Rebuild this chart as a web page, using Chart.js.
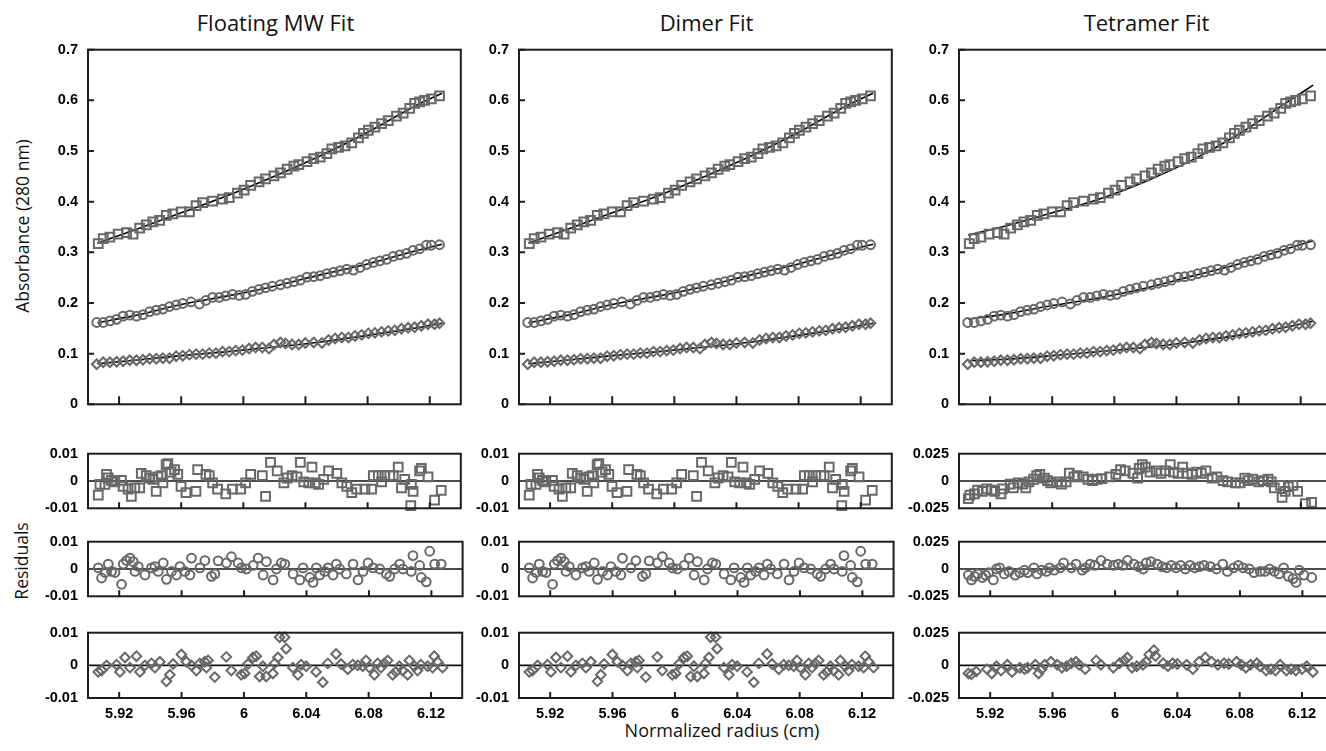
<!DOCTYPE html>
<html>
<head>
<meta charset="utf-8">
<script src="https://cdn.jsdelivr.net/npm/chart.js@4.4.1/dist/chart.umd.min.js"></script>
<style>
  html, body { margin: 0; padding: 0; background: #fff; width: 1326px; height: 751px; overflow: hidden; position: relative; }
  .txt { position: absolute; font-family: 'Open Sans', 'Noto Sans', sans-serif; color: #111; white-space: nowrap; text-align: center; }
  .colTitle { font-size: 22px; line-height: 22px; top: 11px; width: 375px; }
  .yTitle { font-size: 17.5px; line-height: 20px; width: 300px; transform: rotate(-90deg); }
</style>
</head>
<body>
<div class="txt colTitle" style="left:88px">Floating MW Fit</div>
<div class="txt colTitle" style="left:519px">Dimer Fit</div>
<div class="txt colTitle" style="left:959px">Tetramer Fit</div>
<div class="txt yTitle" style="left:-128px;top:216px">Absorbance (280 nm)</div>
<div class="txt yTitle" style="left:-129px;top:551px">Residuals</div>
<div class="txt" style="left:522px;top:720px;width:400px;font-size:18px;line-height:20px">Normalized radius (cm)</div>
<script>
// x ticks shared by every panel
const tickX = [5.92, 5.96, 6.0, 6.04, 6.08, 6.12];

// absorbance data (same scans in all three columns)
const absSqX = [5.9066,5.9098,5.9141,5.9194,5.9248,5.9290,5.9333,5.9376,5.9418,5.9461,5.9504,5.9546,5.9600,5.9653,5.9696,5.9738,5.9802,5.9866,5.9909,5.9962,6.0005,6.0047,6.0101,6.0143,6.0197,6.0239,6.0282,6.0325,6.0357,6.0410,6.0453,6.0495,6.0538,6.0570,6.0613,6.0655,6.0698,6.0741,6.0773,6.0805,6.0847,6.0890,6.0933,6.0986,6.1029,6.1071,6.1103,6.1135,6.1167,6.1210,6.1263];
const absSqY = [0.317,0.327,0.330,0.336,0.339,0.336,0.348,0.354,0.360,0.363,0.373,0.376,0.380,0.380,0.392,0.398,0.401,0.405,0.408,0.417,0.423,0.432,0.439,0.445,0.451,0.457,0.464,0.470,0.473,0.479,0.485,0.488,0.495,0.504,0.507,0.510,0.516,0.526,0.535,0.541,0.547,0.554,0.560,0.569,0.575,0.584,0.594,0.597,0.600,0.603,0.609];
const absCiX = [5.9056,5.9098,5.9141,5.9184,5.9226,5.9269,5.9312,5.9354,5.9397,5.9440,5.9482,5.9525,5.9568,5.9610,5.9663,5.9717,5.9759,5.9802,5.9845,5.9887,5.9930,5.9973,6.0015,6.0058,6.0101,6.0143,6.0186,6.0239,6.0282,6.0325,6.0367,6.0410,6.0453,6.0495,6.0538,6.0581,6.0623,6.0666,6.0709,6.0751,6.0794,6.0837,6.0879,6.0922,6.0965,6.1007,6.1050,6.1093,6.1135,6.1178,6.1210,6.1263];
const absCiY = [0.1615,0.1615,0.1646,0.1677,0.174,0.176,0.174,0.177,0.183,0.186,0.188,0.193,0.196,0.199,0.202,0.198,0.205,0.211,0.211,0.214,0.217,0.215,0.217,0.223,0.227,0.230,0.233,0.236,0.239,0.242,0.245,0.251,0.252,0.254,0.258,0.261,0.264,0.267,0.265,0.270,0.276,0.280,0.283,0.286,0.292,0.295,0.298,0.304,0.307,0.314,0.314,0.315];
const absDiX = [5.9056,5.9098,5.9141,5.9184,5.9226,5.9269,5.9312,5.9354,5.9397,5.9440,5.9482,5.9525,5.9568,5.9610,5.9653,5.9696,5.9738,5.9781,5.9824,5.9866,5.9909,5.9951,5.9994,6.0037,6.0079,6.0122,6.0165,6.0197,6.0239,6.0271,6.0314,6.0357,6.0399,6.0453,6.0506,6.0549,6.0591,6.0634,6.0677,6.0719,6.0762,6.0805,6.0847,6.0890,6.0933,6.0975,6.1018,6.1061,6.1103,6.1146,6.1189,6.1231,6.1263];
const absDiY = [0.079,0.083,0.083,0.084,0.085,0.087,0.087,0.088,0.090,0.090,0.091,0.091,0.095,0.096,0.098,0.099,0.099,0.101,0.101,0.104,0.104,0.106,0.107,0.110,0.112,0.112,0.110,0.118,0.122,0.120,0.118,0.118,0.121,0.122,0.121,0.127,0.130,0.132,0.132,0.135,0.137,0.140,0.141,0.143,0.145,0.146,0.149,0.151,0.152,0.155,0.158,0.158,0.160];

// fitted curves
const fitX = [5.906, 5.93, 5.96, 5.99, 6.02, 6.05, 6.08, 6.11, 6.128];
const fitFloatSq = [0.318,0.344,0.378,0.412,0.450,0.491,0.537,0.588,0.614];
const fitFloatCi = [0.161,0.175,0.197,0.214,0.233,0.256,0.277,0.302,0.316];
const fitFloatDi = [0.080,0.087,0.096,0.104,0.113,0.123,0.136,0.150,0.160];
const fitDimerSq = fitFloatSq, fitDimerCi = fitFloatCi, fitDimerDi = fitFloatDi; // indistinguishable from floating fit
const fitTetSq = [0.334,0.352,0.378,0.405,0.440,0.482,0.533,0.594,0.630];
const fitTetCi = [0.168,0.178,0.195,0.210,0.229,0.253,0.277,0.306,0.323];
const fitTetDi = [0.086,0.089,0.096,0.104,0.112,0.123,0.136,0.152,0.164];

// residuals, floating MW fit (dimer fit looks the same)
const resFloatSqX = [5.9066,5.9077,5.9109,5.9119,5.9130,5.9151,5.9173,5.9215,5.9226,5.9258,5.9279,5.9301,5.9333,5.9343,5.9375,5.9397,5.9418,5.9439,5.9450,5.9471,5.9482,5.9503,5.9514,5.9535,5.9557,5.9578,5.9599,5.9631,5.9695,5.9706,5.9759,5.9781,5.9802,5.9834,5.9887,5.9930,5.9983,6.0015,6.0047,6.0122,6.0143,6.0175,6.0218,6.0261,6.0282,6.0314,6.0346,6.0367,6.0389,6.0421,6.0442,6.0463,6.0485,6.0517,6.0549,6.0602,6.0634,6.0666,6.0698,6.0730,6.0783,6.0826,6.0837,6.0869,6.0890,6.0911,6.0943,6.0965,6.0997,6.1018,6.1039,6.1078,6.1082,6.1093,6.1135,6.1146,6.1189,6.1231,6.1274];
const resFloatSqY = [-0.0052,-0.0012,-0.0012,0.0024,0.0011,0.0002,-0.0003,0.0002,-0.002,-0.003,-0.0056,-0.0025,-0.0025,0.0028,0.002,0.0011,0.0006,-0.0038,0.0015,0.002,-0.0007,0.006,0.0064,0.0033,0.0042,0.0024,-0.002,-0.0043,-0.0038,0.0042,0.0024,0.002,-0.0007,-0.003,-0.0047,-0.003,-0.003,-0.0007,0.0024,0.002,-0.0056,0.0068,0.0037,-0.0007,0.0011,0.002,0.0015,0.0068,-0.0003,-0.0007,0.0051,-0.0007,-0.0012,0.0006,0.0037,0.0028,-0.0007,-0.002,-0.0043,-0.003,-0.003,-0.003,0.002,0.002,-0.0003,0.002,0.002,0.002,0.0051,-0.0025,0.0006,-0.009,-0.0012,-0.0038,0.0037,0.0046,0.0015,-0.007,-0.0034];
const resFloatCiX = [5.9066,5.9087,5.9109,5.9130,5.9151,5.9173,5.9215,5.9226,5.9247,5.9269,5.9290,5.9301,5.9322,5.9365,5.9407,5.9429,5.9450,5.9482,5.9503,5.9535,5.9567,5.9589,5.9621,5.9653,5.9663,5.9717,5.9749,5.9791,5.9813,5.9834,5.9887,5.9919,5.9962,5.9983,6.0015,6.0058,6.0090,6.0122,6.0143,6.0186,6.0207,6.0239,6.0261,6.0314,6.0357,6.0378,6.0421,6.0442,6.0463,6.0485,6.0517,6.0538,6.0570,6.0591,6.0613,6.0655,6.0698,6.0730,6.0762,6.0794,6.0826,6.0869,6.0911,6.0933,6.0965,6.0997,6.1018,6.1071,6.1082,6.1125,6.1135,6.1167,6.1189,6.1221,6.1263];
const resFloatCiY = [0.0004,-0.0033,-0.0013,0.0018,-0.0009,-0.0013,-0.0056,0.0018,0.0031,0.004,0.0027,-0.0009,0.0009,-0.0022,0.0004,0.0009,-0.0009,0.0022,-0.0038,-0.0009,-0.0022,0.0009,-0.0009,-0.0022,0.004,0.0004,0.0031,-0.0027,-0.0018,0.003,0.0022,0.0045,0.0022,0.0004,0,0.0013,0.004,-0.0022,0.0027,-0.004,0,0.0022,0.0018,-0.0018,-0.004,0.0004,-0.0031,-0.0049,0.0004,-0.0022,-0.0009,0.0004,-0.0022,0.0018,0,-0.0018,0.0018,-0.004,-0.0009,0.0022,0.0004,0,-0.0018,-0.0027,0,0.0018,0,-0.0009,0.0049,0.0013,-0.0031,-0.0047,0.0065,0.0018,0.0018];
const resFloatDiX = [5.9066,5.9087,5.9119,5.9183,5.9205,5.9237,5.9269,5.9311,5.9333,5.9365,5.9407,5.9429,5.9461,5.9503,5.9525,5.9546,5.9599,5.9631,5.9663,5.9695,5.9717,5.9749,5.9770,5.9759,5.9813,5.9887,5.9919,5.9983,6.0005,6.0026,6.0058,6.0079,6.0101,6.0122,6.0143,6.0186,6.0197,6.0218,6.0229,6.0261,6.0271,6.0314,6.0346,6.0367,6.0399,6.0463,6.0506,6.0538,6.0591,6.0623,6.0666,6.0698,6.0730,6.0762,6.0783,6.0805,6.0837,6.0858,6.0879,6.0901,6.0922,6.0954,6.0975,6.0997,6.1018,6.1050,6.1061,6.1093,6.1114,6.1135,6.1178,6.1210,6.1221,6.1242,6.1274];
const resFloatDiY = [-0.002,-0.0016,0,0.0002,-0.002,0.0024,-0.0007,0.0028,-0.002,0,0.0006,-0.0007,0.0011,-0.0049,-0.0029,0.0004,0.0033,0.0011,0,-0.0016,0.0006,0.0011,0.0015,-0.0007,-0.0036,0.0026,-0.0016,-0.0029,-0.0025,0.0004,0.0024,0.0028,-0.0034,-0.0003,-0.0034,-0.0025,0.0006,0.0024,0.0086,0.0086,0.0051,-0.0007,-0.0029,0.0002,-0.0003,-0.002,-0.0052,0.0006,0.0035,0.0004,-0.0012,0.0002,0,-0.0003,0.0015,-0.0007,-0.0029,0.0006,-0.0007,0.0006,0.0015,-0.0029,-0.002,-0.0003,-0.0016,-0.0029,0.0015,-0.0003,-0.0016,0.0002,-0.0003,-0.0007,0.0028,0.0011,-0.0007];

// residuals, tetramer fit
const resTetSqX = [5.906,5.907,5.910,5.912,5.915,5.918,5.921,5.923,5.927,5.928,5.933,5.935,5.938,5.941,5.943,5.945,5.948,5.950,5.952,5.955,5.957,5.959,5.963,5.966,5.969,5.971,5.974,5.976,5.980,5.983,5.986,5.989,5.992,5.997,6.001,6.004,6.007,6.012,6.015,6.016,6.018,6.020,6.023,6.027,6.030,6.033,6.036,6.038,6.041,6.044,6.047,6.050,6.053,6.056,6.059,6.063,6.066,6.070,6.073,6.078,6.081,6.084,6.086,6.089,6.093,6.096,6.099,6.101,6.103,6.107,6.108,6.110,6.112,6.115,6.118,6.123,6.127];
const resTetSqY = [-0.0162,-0.0129,-0.0118,-0.0084,-0.0096,-0.0073,-0.0084,-0.0096,-0.0118,-0.0073,-0.0029,-0.0062,-0.0018,-0.0029,-0.0062,-0.0007,0.0016,0.0049,0.006,0.0027,0.0004,-0.0018,-0.0007,-0.0029,-0.0007,0.0071,0.0038,0.0049,0.0038,0.0016,0.0004,0.0016,0.0022,0.0038,0.006,0.0104,0.0093,0.0071,0.0027,0.0116,0.0149,0.0127,0.0082,0.0093,0.0071,0.0093,0.0149,0.0082,0.0071,0.0127,0.0071,0.006,0.0082,0.0071,0.0093,0.0027,0.0038,0.0004,-0.0007,-0.0018,-0.0018,0.0027,0.0004,0.0016,-0.0007,0.0004,0.0016,-0.0007,-0.0062,-0.004,-0.0151,-0.0096,-0.0051,-0.004,-0.0096,-0.0207,-0.0196];
const resTetCiX = [5.906,5.908,5.910,5.912,5.915,5.917,5.919,5.922,5.924,5.926,5.929,5.932,5.936,5.939,5.942,5.944,5.948,5.950,5.953,5.956,5.958,5.961,5.965,5.967,5.972,5.975,5.979,5.981,5.984,5.987,5.991,5.995,5.999,6.002,6.005,6.008,6.012,6.015,6.018,6.020,6.023,6.027,6.030,6.033,6.036,6.039,6.042,6.045,6.048,6.051,6.054,6.057,6.061,6.065,6.069,6.072,6.076,6.079,6.082,6.086,6.089,6.093,6.096,6.099,6.102,6.105,6.108,6.111,6.114,6.116,6.118,6.121,6.126];
const resTetCiY = [-0.0056,-0.01,-0.0067,-0.0045,-0.0078,-0.0056,-0.0033,-0.01,0,0.0011,-0.0045,-0.0022,-0.0056,-0.0033,-0.0011,-0.0033,0.0011,-0.0045,-0.0011,-0.0022,0.0011,-0.0011,0.0011,0.0056,0.0011,0.0045,-0.0011,0.0011,0.0045,0.0033,0.0078,0.0045,0.0033,0.0045,0.0033,0.0078,0.0045,0.0022,0,0.0056,0.0067,0.0045,0.0022,0.0011,0.0033,0.0011,0.0033,0,0.0033,0.0011,0.0022,0.0033,0.0022,0,0.0045,-0.0022,0.0011,0.0033,0.0011,0,-0.0033,-0.0022,-0.0022,0,-0.0022,-0.0045,0.0011,-0.0067,-0.0089,-0.0123,-0.0011,-0.0056,-0.0078];
const resTetDiX = [5.906,5.908,5.911,5.918,5.921,5.924,5.927,5.931,5.934,5.939,5.942,5.944,5.949,5.951,5.953,5.955,5.959,5.963,5.966,5.969,5.972,5.975,5.977,5.981,5.988,5.991,5.999,6.003,6.006,6.008,6.011,6.014,6.018,6.020,6.022,6.025,6.026,6.031,6.034,6.037,6.040,6.046,6.050,6.054,6.058,6.062,6.066,6.070,6.073,6.078,6.081,6.084,6.087,6.091,6.093,6.097,6.100,6.103,6.106,6.110,6.113,6.116,6.120,6.123,6.127];
const resTetDiY = [-0.0062,-0.0069,-0.0047,-0.0029,-0.0062,-0.0007,-0.004,0.0004,-0.0051,-0.0018,-0.0029,-0.0018,0.0004,-0.0062,-0.0029,0.0004,0.0027,0.0004,-0.0018,-0.0007,0.0016,0.0027,0.0004,-0.0029,0.0038,0.0004,-0.0018,0.0016,0.0038,0.006,-0.0018,-0.0007,0.0004,0.0027,0.0082,0.0116,0.0071,0.0016,-0.0007,0.0016,0.0011,0.0004,-0.0029,0.0027,0.006,0.0027,0.0004,0.0016,0.0011,0.0027,0.0004,-0.0018,0.0004,0.0016,-0.0007,-0.004,-0.0029,-0.004,0.0004,-0.004,-0.0029,-0.004,-0.0029,-0.0007,-0.0051];

const GREY = '#686868';
const marks = [
  { pointStyle: 'rect', pointRadius: 6.2 },
  { pointStyle: 'circle', pointRadius: 4.4 },
  { pointStyle: 'rectRot', pointRadius: 4.8 }
];
const tickFont = { family: "'Liberation Sans', Arial, sans-serif", weight: 'bold', size: 14.5 };

function pts(xs, ys) { return xs.map((x, i) => ({ x, y: ys[i] })); }
function fmt(v) { return String(+Number(v).toFixed(3)); }

// draws the box, inward tick marks and the zero line of residual panels
const framePlugin = {
  id: 'frame',
  beforeDatasetsDraw(chart, args, o) {
    if (!o.zero) return;
    const { ctx, chartArea: a, scales: { y } } = chart;
    const py = y.getPixelForValue(0);
    ctx.save();
    ctx.strokeStyle = '#111'; ctx.lineWidth = 1.6;
    ctx.beginPath(); ctx.moveTo(a.left, py); ctx.lineTo(a.right, py); ctx.stroke();
    ctx.restore();
  },
  afterDatasetsDraw(chart, args, o) {
    const { ctx, chartArea: a, scales: { x, y } } = chart;
    ctx.save();
    ctx.strokeStyle = '#1c1c1c'; ctx.lineWidth = 2;
    ctx.strokeRect(a.left, a.top, a.width, a.height);
    ctx.beginPath();
    tickX.forEach(v => {
      const px = x.getPixelForValue(v);
      ctx.moveTo(px, a.bottom); ctx.lineTo(px, a.bottom - o.xTick);
    });
    if (o.yTick) {
      y.ticks.forEach(t => {
        const py = y.getPixelForValue(t.value);
        ctx.moveTo(a.left, py); ctx.lineTo(a.left + o.yTick, py);
      });
    }
    ctx.stroke();
    ctx.restore();
  }
};

function addCanvas(left, top, w, h) {
  const c = document.createElement('canvas');
  c.width = w; c.height = h;
  c.style.cssText = `position:absolute;left:${left}px;top:${top}px;width:${w}px;height:${h}px`;
  document.body.appendChild(c);
  return c;
}

const PLOT_W = 375, AXIS_W = 60, X_AXIS_H = 28;

function panel(left, top, h, cfg) {
  const padTop = 8, padBottom = cfg.showX ? 0 : 8, padRight = 6;
  const canvas = addCanvas(left - AXIS_W, top - padTop, AXIS_W + PLOT_W + padRight,
    padTop + h + padBottom + (cfg.showX ? X_AXIS_H : 0));
  const xScale = {
    type: 'linear', min: 5.9, max: 6.14, display: !!cfg.showX,
    grid: { display: false, drawTicks: false }, border: { display: false },
    afterBuildTicks: s => { s.ticks = tickX.map(v => ({ value: v })); },
    ticks: { font: tickFont, color: '#000', padding: 7, maxRotation: 0, autoSkip: false, callback: v => String(+Number(v).toFixed(2)) }
  };
  if (cfg.showX) xScale.afterFit = s => { s.height = X_AXIS_H; };
  return new Chart(canvas, {
    type: 'scatter',
    data: { datasets: cfg.datasets },
    options: {
      responsive: false, devicePixelRatio: 1, animation: false,
      layout: { padding: { top: padTop, bottom: padBottom, left: 0, right: padRight } },
      plugins: { legend: { display: false }, tooltip: { enabled: false }, frame: cfg.frame },
      scales: {
        x: xScale,
        y: {
          type: 'linear', min: cfg.min, max: cfg.max,
          grid: { display: false, drawTicks: false }, border: { display: false },
          ticks: { stepSize: cfg.step, font: tickFont, color: '#000', padding: 10, callback: fmt },
          afterFit: s => { s.width = AXIS_W; }
        }
      }
    },
    plugins: [framePlugin]
  });
}

function scatterSet(xs, ys, k) {
  return Object.assign({
    data: pts(xs, ys), borderColor: GREY, backgroundColor: 'rgba(0,0,0,0)',
    pointBorderWidth: 2, borderWidth: 2, showLine: false, clip: false, order: 1
  }, marks[k]);
}
function fitSet(ys) {
  return {
    type: 'line', data: pts(fitX, ys), borderColor: '#000', borderWidth: 1.6,
    pointRadius: 0, cubicInterpolationMode: 'monotone', fill: false, order: 2
  };
}

const absX = [absSqX, absCiX, absDiX], absY = [absSqY, absCiY, absDiY];
const cols = [
  { left: 88, fits: [fitFloatSq, fitFloatCi, fitFloatDi], rmax: 0.01,
    res: [[resFloatSqX, resFloatSqY], [resFloatCiX, resFloatCiY], [resFloatDiX, resFloatDiY]] },
  { left: 519, fits: [fitDimerSq, fitDimerCi, fitDimerDi], rmax: 0.01,
    res: [[resFloatSqX, resFloatSqY], [resFloatCiX, resFloatCiY], [resFloatDiX, resFloatDiY]] },
  { left: 959, fits: [fitTetSq, fitTetCi, fitTetDi], rmax: 0.025,
    res: [[resTetSqX, resTetSqY], [resTetCiX, resTetCiY], [resTetDiX, resTetDiY]] }
];
const resTops = [443, 531, 622];

cols.forEach(col => {
  panel(col.left, 39, 376, {
    min: 0, max: 0.7, step: 0.1,
    frame: { xTick: 8, yTick: 6 },
    datasets: [0, 1, 2].map(k => fitSet(col.fits[k])).concat([0, 1, 2].map(k => scatterSet(absX[k], absY[k], k)))
  });
  col.res.forEach((r, k) => {
    panel(col.left, resTops[k], 76, {
      min: -col.rmax, max: col.rmax, step: col.rmax, showX: k === 2,
      frame: { xTick: 6, yTick: 0, zero: true },
      datasets: [scatterSet(r[0], r[1], k)]
    });
  });
});
</script>
</body>
</html>
